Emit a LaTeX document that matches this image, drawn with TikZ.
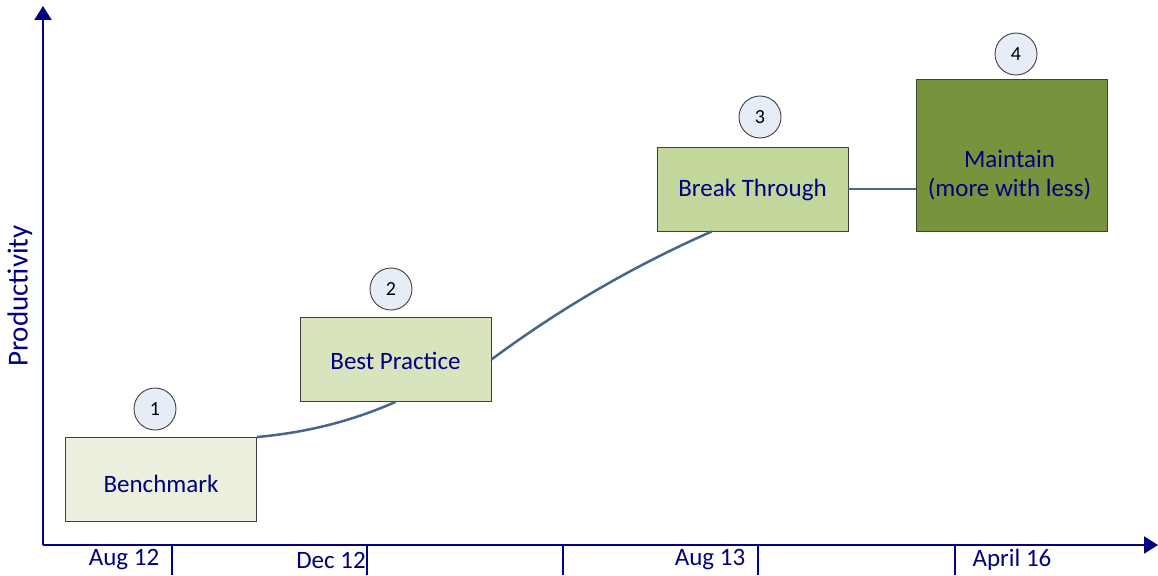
\documentclass[tikz,border=0pt]{standalone}
\usepackage{fontspec}
\setmainfont{Carlito}
\usetikzlibrary{arrows.meta,calc}
\definecolor{axisblue}{HTML}{000080}
\definecolor{linkblue}{HTML}{46668C}
\definecolor{stageA}{HTML}{EBF1DE}
\definecolor{stageB}{HTML}{D7E4BD}
\definecolor{stageC}{HTML}{C3D69B}
\definecolor{stageD}{HTML}{77933C}
\definecolor{badge}{HTML}{E6EDF7}
\tikzset{
  axisline/.style={draw=axisblue, line width=2pt, -{Triangle[width=17pt,length=14pt]}},
  tickline/.style={draw=axisblue, line width=1.5pt},
  stagebox/.style={draw=black!75, line width=0.9pt, minimum width=191pt, minimum height=84pt,
    inner sep=0pt},
  stagetext/.style={text=axisblue, font=\fontsize{25}{29}\selectfont, align=center, inner sep=0pt},
  stepbadge/.style={circle, draw=black!75, line width=0.9pt, fill=badge, minimum size=42pt,
    inner sep=0pt, font=\fontsize{20}{22}\selectfont},
  datelabel/.style={text=axisblue, font=\fontsize{25}{29}\selectfont, inner sep=0pt},
  growth/.style={draw=linkblue, line width=2.5pt}
}
\begin{document}
\begin{tikzpicture}[x=1pt,y=-1pt]
\useasboundingbox (0,0) rectangle (1158,575);

% axes
\coordinate (origin) at (43,545);
\coordinate (ytop) at (43,6);
\coordinate (xend) at (1158,545);
\draw[axisline] (origin) -- (ytop);
\draw[axisline] (origin) -- (xend);

% ticks below the time axis
\foreach \tx [count=\i] in {172,367,563,758,955} {
  \coordinate (t\i) at (\tx,545);
  \draw[tickline] (t\i) -- ++(0,30);
}

% date labels
\node[datelabel] (d1) at (124,560) {Aug 12};
\node[datelabel] (d2) at (331,560) {Dec 12};
\node[datelabel] (d3) at (710,560) {Aug 13};
\node[datelabel] (d4) at (1012,560) {April 16};

% vertical axis title
\node[text=axisblue, font=\fontsize{29}{34}\selectfont, rotate=90, inner sep=0pt] (ylab) at (20,296) {Productivity};

% stages
\node[stagebox, fill=stageA] (bench) at (161,479.5) {};
\node[stagebox, fill=stageB] (best) at (395.5,359.5) {};
\node[stagebox, fill=stageC] (brk) at (752.5,189) {};
\node[stagebox, fill=stageD, minimum height=152pt] (mnt) at (1011.5,155) {};

\node[stagetext] (benchtext) at ($(bench.center)+(0,4)$) {Benchmark};
\node[stagetext] (besttext) at ($(best.center)+(0,1)$) {Best Practice};
\node[stagetext] (brktext) at ($(brk.center)+(0,1)$) {Break Through};
\node[stagetext] (mnttext) at ($(mnt.center)+(-2,20)$) {Maintain\\(more with less)};

% step numbers
\node[stepbadge] (n1) at (155,409) {1};
\node[stepbadge] (n2) at (391,289) {2};
\node[stepbadge] (n3) at (760,117) {3};
\node[stepbadge] (n4) at (1016,54) {4};

% growth curve linking the stages
\coordinate (brkfoot) at ($(brk.south west)!0.288!(brk.south east)$);
\draw[growth] (bench.north east) .. controls (300,433) and (345,424) .. (best.south);
\draw[growth] (best.east) .. controls (565,305) and (638,264) .. (brkfoot);
\draw[growth] (brk.east) -- (brk.east -| mnt.west);
\end{tikzpicture}
\end{document}
